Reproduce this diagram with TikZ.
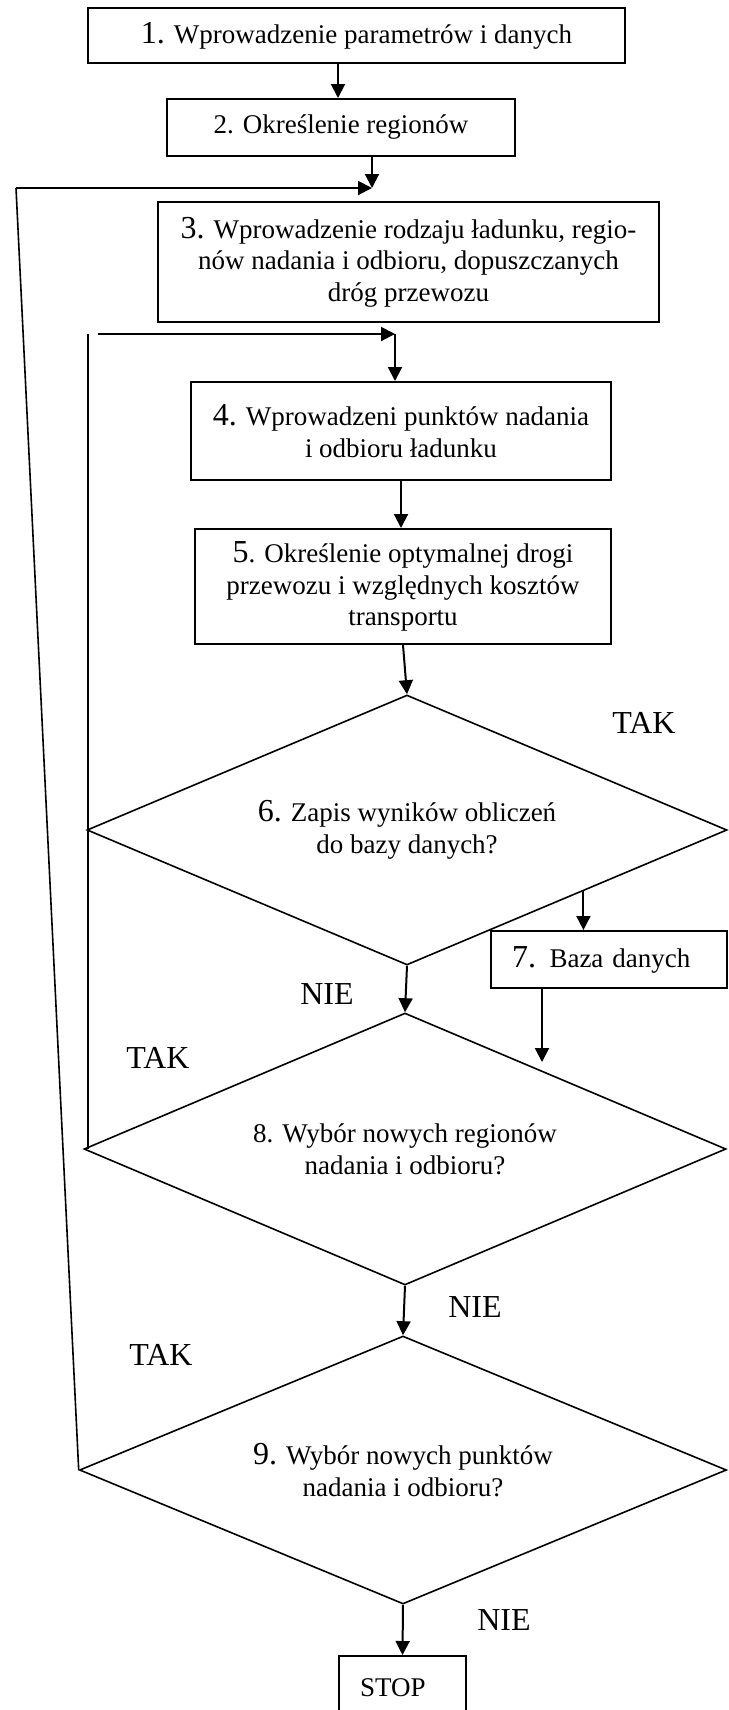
\documentclass[tikz,border=0pt]{standalone}
\usepackage{fontspec}
\setmainfont{Liberation Serif}
\usepackage{tikz}
\usetikzlibrary{calc,positioning,shapes,arrows.meta}

\newcommand{\nr}[1]{{\fontsize{16}{16}\selectfont #1}}
\tikzset{
  blok/.style={draw,rectangle,line width=1pt,inner sep=0pt,align=center,
    font=\fontsize{13.5}{15.8}\selectfont},
  lblok/.style={blok,align=left,inner xsep=10.5pt},
  romb/.style={draw,diamond,line width=0.8pt,inner sep=0pt,aspect=2.4,
    align=center,font=\fontsize{13.5}{15.8}\selectfont},
  etyk/.style={font=\fontsize{16}{16}\selectfont},
  strz/.style={line width=1pt,-{Triangle[length=7pt,width=7pt]}},
  linia/.style={line width=0.8pt}
}

\begin{document}
\begin{tikzpicture}[x=0.5pt,y=-0.5pt]
  \clip (0,0) rectangle (729,1710);
  % bloki
  \node at (356.5,35.5) (b1) [blok,minimum width=268.5pt,minimum height=27.5pt]
    {\nr{1.} Wprowadzenie parametrów i danych};
  \node at (341,127.5) (b2) [blok,minimum width=174pt,minimum height=28.5pt]
    {2. Określenie regionów};
  \node at (408.5,262) (b3) [blok,minimum width=250.5pt,minimum height=60pt]
    {\nr{3.} Wprowadzenie rodzaju ładunku, regio-\\
     nów nadania i odbioru, dopuszczanych\\
     dróg przewozu};
  \node at (401,431) (b4) [blok,minimum width=210pt,minimum height=49pt]
    {\nr{4.} Wprowadzeni punktów nadania\\ i odbioru ładunku};
  \node at (403,586.5) (b5) [blok,minimum width=208pt,minimum height=57.5pt]
    {\nr{5}. Określenie optymalnej drogi\\
     przewozu i względnych kosztów\\ transportu};
  \node at (407,830) (d6) [romb,minimum width=320pt,minimum height=135pt]
    {\nr{6.} Zapis wyników obliczeń\\ do bazy danych?};
  \node at (609,959.5) (b7) [lblok,text width=97pt,minimum width=118pt,
    minimum height=28.5pt] {\nr{7.} Baza danych};
  \node at (405,1149) (d8) [romb,minimum width=321pt,minimum height=136pt]
    {8. Wybór nowych regionów\\ nadania i odbioru?};
  \node at (403,1470) (d9) [romb,minimum width=323.5pt,minimum height=134pt]
    {\nr{9.} Wybór nowych punktów\\ nadania i odbioru?};
  \node at (402.5,1688) (stop) [lblok,text width=42.5pt,minimum width=63.5pt,
    minimum height=32pt] {STOP};

  % etykiety
  \node at (644,723) (tak6) [etyk] {TAK};
  \node at (327,994) (nie6) [etyk] {NIE};
  \node at (158,1058) (tak8) [etyk] {TAK};
  \node at (475,1307) (nie8) [etyk] {NIE};
  \node at (161,1355) (tak9) [etyk] {TAK};
  \node at (504,1620) (nie9) [etyk] {NIE};

  % punkty pomocnicze
  \coordinate (j3) at (372,188);
  \coordinate (p3) at (16,188);
  \coordinate (j4) at (395,334);
  \coordinate (p4) at (98,334);
  \coordinate (q4) at (88,334);
  \coordinate (k7) at (542,1062);

  % strzalki
  \draw[strz] ([xshift=-9.25pt]b1.south) -- ([xshift=-9.25pt]b1.south |- b2.north);
  \draw[strz] (j3 |- b2.south) -- (j3);
  \draw[linia] (d9.west) -- (p3);
  \draw[strz] (p3) -- (j3);
  \draw[linia] (q4) -- (q4 |- d8.west);
  \draw[strz] (p4) -- (j4);
  \draw[strz] (j4) -- (j4 |- b4.north);
  \draw[strz] (b4.south) -- (b4.south |- b5.north);
  \draw[strz] (b5.south) -- (d6.north);
  \draw[strz] ($(d6.south)!0.55!(d6.east)$) coordinate (w7) -- (w7 |- b7.north);
  \draw[strz] (b7.south -| k7) -- (k7);
  \draw[strz] (d6.south) -- (d8.north);
  \draw[strz] (d8.south) -- (d9.north);
  \draw[strz] (d9.south) -- (stop.north);
\end{tikzpicture}
\end{document}
